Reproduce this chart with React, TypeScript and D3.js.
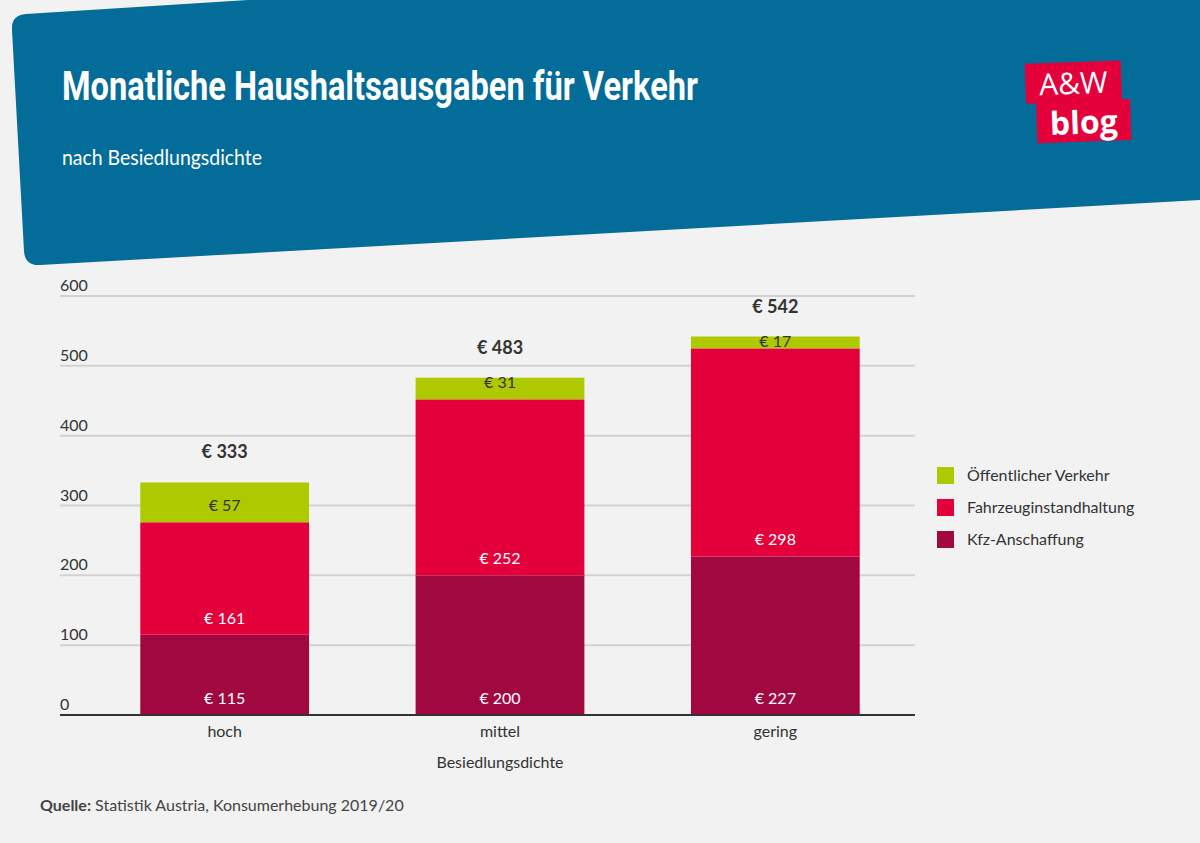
import React from "react";
import * as d3 from "d3";

const categories = ["hoch", "mittel", "gering"];
const seriesNames = ["Kfz-Anschaffung", "Fahrzeuginstandhaltung", "Öffentlicher Verkehr"];
const kfz = [115, 200, 227];
const instand = [161, 252, 298];
const oeffentlich = [57, 31, 17];
const totals = [333, 483, 542];
const yTicks = [0, 100, 200, 300, 400, 500, 600];
const colors = ["#a1083f", "#e4003a", "#afc900"];

const W = 1200, H = 843;
const FONT = "Lato, 'Noto Sans', sans-serif";

export default function App() {
  const y = d3.scaleLinear().domain([0, 600]).range([715, 296]);
  const x = d3.scaleBand().domain(categories).range([87, 913]).paddingInner(0.387).paddingOuter(0.1935);
  const rows = categories.map((c, i) => ({ cat: c, k: kfz[i], f: instand[i], o: oeffentlich[i] }));
  const stack = d3.stack<any>().keys(["k", "f", "o"])(rows);
  const header = "M 12 30 Q 11 15 26 14 L 1200 -60 L 1200 200 L 40 265 Q 25 266 24 251 Z";
  return (
    <svg width={W} height={H} style={{ position: "absolute", left: 0, top: 0, background: "#f2f2f2" }} fontFamily={FONT}>
      <rect width={W} height={H} fill="#f2f2f2" />
      <path d={header} fill="#036c99" />
      <text x={62} y={100} fill="#fff" fontSize={40} fontWeight={700} textLength={636} lengthAdjust="spacingAndGlyphs"
        fontFamily="'Liberation Sans Narrow', Roboto, sans-serif">Monatliche Haushaltsausgaben für Verkehr</text>
      <text x={62} y={165} fill="#fff" fontSize={21} textLength={200} lengthAdjust="spacingAndGlyphs">nach Besiedlungsdichte</text>
      <g transform="rotate(-2 1075 100)">
        <rect x={1026} y={62} width={96} height={40} fill="#e4003a" />
        <rect x={1036} y={101} width={94} height={41} fill="#e4003a" />
        <text x={1074} y={94} fill="#fff" fontSize={30} textAnchor="middle" fontFamily="'Open Sans', sans-serif">A&amp;W</text>
        <text x={1083} y={134} fill="#fff" fontSize={32} fontWeight={700} textAnchor="middle" fontFamily="'Open Sans', sans-serif">blog</text>
      </g>
      {yTicks.filter(t => t > 0).map(t => (
        <line key={t} x1={60} x2={915} y1={y(t)} y2={y(t)} stroke="#d2d2d2" strokeWidth={2} />
      ))}
      {yTicks.map(t => (
        <text key={"l" + t} x={60} y={y(t) - 5} fontSize={16} fill="#333">{t}</text>
      ))}
      {stack.map((s, si) => (
        <g key={si}>
          {s.map((d, i) => {
            const top = y(d[1]), bot = y(d[0]);
            const val = (d[1] - d[0]);
            const by = Math.max(bot - 11, top + 10);
            return (
              <g key={i}>
                <rect x={x(categories[i])} y={top} width={x.bandwidth()} height={bot - top} fill={colors[si]} />
                <text x={x(categories[i])! + x.bandwidth() / 2} y={by} textAnchor="middle" fontSize={16}
                  fill={si === 2 ? "#333" : "#fff"}>€ {val}</text>
              </g>
            );
          })}
        </g>
      ))}
      {categories.map((c, i) => (
        <g key={c}>
          <text x={x(c)! + x.bandwidth() / 2} y={y(totals[i]) - 24} textAnchor="middle" fontSize={18} fontWeight={700} fill="#333">€ {totals[i]}</text>
          <text x={x(c)! + x.bandwidth() / 2} y={737} textAnchor="middle" fontSize={16} fill="#333">{c}</text>
        </g>
      ))}
      <line x1={60} x2={915} y1={y(0)} y2={y(0)} stroke="#333" strokeWidth={2} />
      <text x={500} y={768} textAnchor="middle" fontSize={16} fill="#333">Besiedlungsdichte</text>
      {[2, 1, 0].map((si, j) => (
        <g key={si}>
          <rect x={937} y={467 + j * 32} width={17} height={17} fill={colors[si]} />
          <text x={967} y={481 + j * 32} fontSize={16} fill="#333">{seriesNames[si]}</text>
        </g>
      ))}
      <text x={40} y={811} fontSize={16} fill="#444">
        <tspan fontWeight={700}>Quelle:</tspan> Statistik Austria, Konsumerhebung 2019/20
      </text>
    </svg>
  );
}
